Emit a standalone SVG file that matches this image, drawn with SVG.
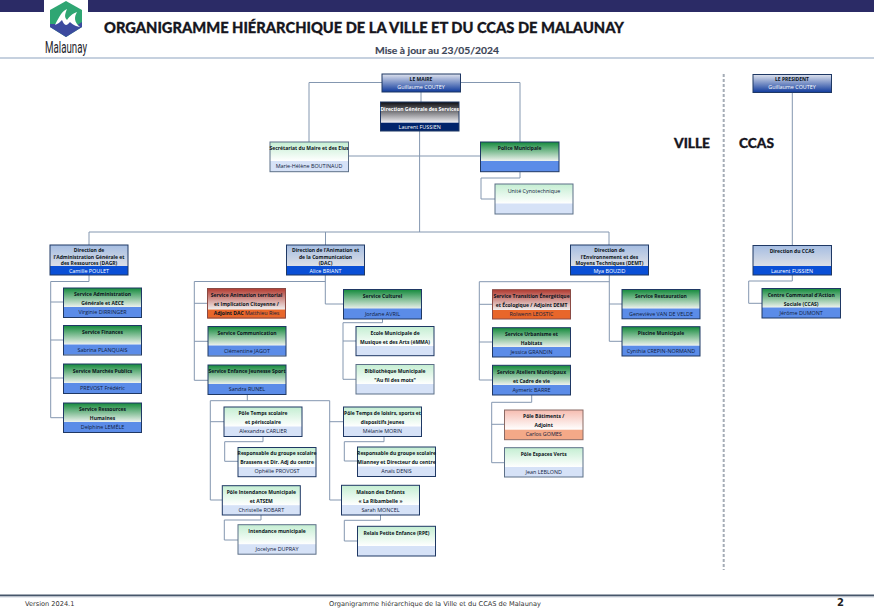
<svg xmlns="http://www.w3.org/2000/svg" width="874" height="616" viewBox="0 0 874 616">
<style>
text{font-family:"Open Sans","Liberation Sans",sans-serif;text-anchor:middle;font-size:5.4px;fill:#10203c}
.b{font-weight:700;fill:#0a1420;font-size:5px}
.w{fill:#fff}
.wb{fill:#fff;font-weight:700;font-size:5px}
.c{fill:none;stroke:#8497b0;stroke-width:1}
.o{fill:none;stroke:#1f3864;stroke-width:1}
.p{fill:none;stroke:#5d7088;stroke-width:1}
.h{font-family:Lato,"Open Sans",sans-serif;font-weight:900;fill:#16161e;text-anchor:start;stroke:#16161e;stroke-width:.3}
.f{font-family:"DejaVu Sans",sans-serif;font-size:6.6px;fill:#333;text-anchor:start}
</style>
<defs>
<linearGradient id="gM" x1="0" y1="0" x2="0" y2="1"><stop offset="0" stop-color="#dfe3ee"/><stop offset="1" stop-color="#0f3a9c"/></linearGradient>
<linearGradient id="gD" x1="0" y1="0" x2="0" y2="1"><stop offset="0" stop-color="#0e0e12"/><stop offset="1" stop-color="#f0f0f4"/></linearGradient>
<linearGradient id="gG" x1="0" y1="0" x2="0" y2="1"><stop offset="0" stop-color="#148a3c"/><stop offset="1" stop-color="#eef2ee"/></linearGradient>
<linearGradient id="gP" x1="0" y1="0" x2="0" y2="1"><stop offset="0" stop-color="#c4eed2"/><stop offset="1" stop-color="#ffffff"/></linearGradient>
<linearGradient id="gB" x1="0" y1="0" x2="0" y2="1"><stop offset="0" stop-color="#a5bde2"/><stop offset="1" stop-color="#dcdfe6"/></linearGradient>
<linearGradient id="gR" x1="0" y1="0" x2="0" y2="1"><stop offset="0" stop-color="#b23a30"/><stop offset="1" stop-color="#f0eeee"/></linearGradient>
<linearGradient id="gL" x1="0" y1="0" x2="0" y2="1"><stop offset="0" stop-color="#f6bcb0"/><stop offset="1" stop-color="#ffffff"/></linearGradient>
</defs>
<rect width="874" height="616" fill="#fff"/>
<g id="header">
<rect x="0" y="0" width="44" height="12" fill="#2b2b66"/>
<rect x="88" y="0" width="786" height="12" fill="#2b2b66"/>
<rect x="0" y="57" width="874" height="2" fill="#c6d1df"/>
<polygon points="66,1 82,10 82,27 66,37 50,27 50,10" fill="#2fa673"/>
<polygon points="50,24 56,24 61,17 66,25 72,19 76,26 82,22 82,27 66,37 50,27" fill="#3c4a9f"/>
<path d="M55,25 C59,17 62,11 67,9 C65,14 64,17 67,20 C70,16 72,14 77,12 C74,17 74,22 80,27 C74,26 71,23 70,22 C66,27 64,25 62,20 C60,22 58,24 55,25Z" fill="#fff"/>
<text x="66" y="53" style="font-family:Roboto,sans-serif;font-size:16px;fill:#26262c" textLength="42" lengthAdjust="spacingAndGlyphs">Malaunay</text>
<text class="h" x="104" y="33" style="font-size:15.4px" textLength="520" lengthAdjust="spacingAndGlyphs">ORGANIGRAMME HIÉRARCHIQUE DE LA VILLE ET DU CCAS DE MALAUNAY</text>
<text class="h" x="375" y="54" style="font-size:9.5px;fill:#3b4456;stroke:#3b4456;stroke-width:.15;font-weight:700" textLength="124" lengthAdjust="spacingAndGlyphs">Mise à jour au 23/05/2024</text>
<text class="h" x="674" y="148" style="font-size:12.5px" textLength="36" lengthAdjust="spacingAndGlyphs">VILLE</text>
<text class="h" x="739" y="148" style="font-size:12.5px" textLength="35" lengthAdjust="spacingAndGlyphs">CCAS</text>
<line x1="723.7" y1="74" x2="723.7" y2="570" stroke="#a4acb6" stroke-width="2" stroke-dasharray="3 2"/>
</g>
<g id="connectors">
<path class="c" d="M382,82.5H309V142M461,82.5H520V142M421,92V102M419.6,131V232M349,156H480M520,172V178H481V199H495"/>
<path class="c" d="M89,245V232H609V245M325.5,232V245"/>
<path class="c" d="M89,275V281.5H50.7V417.7H63M50.7,302H63M50.7,340H63M50.7,378H63"/>
<path class="c" d="M325.3,275V304H343M325.3,281.5H194.3V380.3H208M194.3,303.3H207M194.3,341.3H208"/>
<path class="c" d="M247.3,395V400.7M210.3,500V400.7H329.7V500H341M210.3,421.7H224M210.3,500H222M329.7,421.7H343"/>
<path class="c" d="M263,437V441.7H224.7V461.3H238M261,515V520H224.3V540H238M384,437V441.7H344.3V461H357M380.5,515V520.3H344.3V541H357"/>
<path class="c" d="M382.5,319V322.7H343V379.3H356M343,341H356"/>
<path class="c" d="M609.3,275V341.3H622M609.3,304H622M609.3,281.7H479.3V380H492M479.3,304.3H492M479.3,342H492"/>
<path class="c" d="M531.7,395V402.3H491.7V462.7H504M491.7,424.3H504"/>
<path class="c" d="M792.3,92.7V245.3M792.3,275V281H748.7V303.3H762"/>
</g>

<g id="maire"><rect x="382" y="74" width="78.5" height="18" fill="url(#gM)" stroke="#1f3864"/><text class="b" x="421" y="81">LE MAIRE</text><text class="w" x="421" y="88.5">Guillaume COUTEY</text></g>
<g id="dgs"><rect x="380.5" y="102" width="78.5" height="20.7" fill="url(#gD)"/><rect x="380.5" y="122.7" width="78.5" height="8.3" fill="#00236b"/><rect class="o" x="380.5" y="102" width="78.5" height="29"/><text class="wb" x="419.7" y="110.5">Direction Générale des Services</text><text class="w" x="419.7" y="128.5">Laurent FUSSIEN</text></g>
<g id="secretariat"><rect x="270" y="142" width="78.5" height="19" fill="url(#gP)"/><rect x="270" y="161" width="78.5" height="10.7" fill="#d6e2f7"/><rect class="p" x="270" y="142" width="78.5" height="29.7"/><text class="b" x="309" y="149.7">Secrétariat du Maire et des Elus</text><text x="309" y="167.7">Marie-Hélène BOUTINAUD</text></g>
<g id="police"><rect x="480.5" y="142" width="78.5" height="19" fill="url(#gG)"/><rect x="480.5" y="161" width="78.5" height="10.7" fill="#5b8ce8"/><rect class="o" x="480.5" y="142" width="78.5" height="29.7"/><text class="b" x="519.7" y="150.2">Police Municipale</text></g>
<g id="cyno"><rect x="495" y="184" width="78" height="19.5" fill="url(#gP)"/><rect x="495" y="203.5" width="78" height="10.5" fill="#d6e2f7"/><rect class="p" x="495" y="184" width="78" height="30"/><text x="534" y="193">Unité  Cynotechnique</text></g>

<g id="dagr"><rect x="50" y="245" width="78" height="21" fill="url(#gB)"/><rect x="50" y="266" width="78" height="9" fill="#0a4fd6"/><rect class="o" x="50" y="245" width="78" height="30"/><text class="b" x="89" y="252">Direction de</text><text class="b" x="89" y="258.5">l’Administration Générale et</text><text class="b" x="89" y="265">des Ressources (DAGR)</text><text class="w" x="89" y="272.5">Camille POULET</text></g>
<g id="dac"><rect x="286.5" y="245" width="78" height="21" fill="url(#gB)"/><rect x="286.5" y="266" width="78" height="9" fill="#0a4fd6"/><rect class="o" x="286.5" y="245" width="78" height="30"/><text class="b" x="325.5" y="252">Direction de l’Animation et</text><text class="b" x="325.5" y="258.5">de la Communication</text><text class="b" x="325.5" y="265">(DAC)</text><text class="w" x="325.5" y="272.5">Alice BRIANT</text></g>
<g id="demt"><rect x="570.5" y="245" width="78" height="21" fill="url(#gB)"/><rect x="570.5" y="266" width="78" height="9" fill="#0a4fd6"/><rect class="o" x="570.5" y="245" width="78" height="30"/><text class="b" x="609.5" y="252">Direction de</text><text class="b" x="609.5" y="258.5">l’Environnement et des</text><text class="b" x="609.5" y="265">Moyens Techniques (DEMT)</text><text class="w" x="609.5" y="272.5">Mya BOUZID</text></g>
<g id="ccas"><rect x="753" y="245.5" width="78.5" height="20.5" fill="url(#gB)"/><rect x="753" y="266" width="78.5" height="9" fill="#0a4fd6"/><rect class="o" x="753" y="245.5" width="78.5" height="29.5"/><text class="b" x="792" y="252.5">Direction du CCAS</text><text class="w" x="792" y="272.5">Laurent FUSSIEN</text></g>
<g id="president"><rect x="753" y="74.5" width="78.5" height="18" fill="url(#gM)" stroke="#1f3864"/><text class="b" x="792" y="81">LE PRESIDENT</text><text class="w" x="792" y="88.5">Guillaume COUTEY</text></g>

<g id="s-admin"><rect x="63.5" y="288" width="78" height="19" fill="url(#gG)"/><rect x="63.5" y="307" width="78" height="10" fill="#5b8ce8"/><rect class="o" x="63.5" y="288" width="78" height="29.5"/><text class="b" x="102.5" y="295.7">Service Administration</text><text class="b" x="102.5" y="304.7">Générale et AECE</text><text x="102.5" y="313.7">Virginie DIRRINGER</text></g>
<g id="s-fin"><rect x="63.5" y="325.5" width="78" height="19" fill="url(#gG)"/><rect x="63.5" y="344.5" width="78" height="10" fill="#5b8ce8"/><rect class="o" x="63.5" y="325.5" width="78" height="29.5"/><text class="b" x="102.5" y="333.9">Service Finances</text><text x="102.5" y="351.5">Sabrina PLANQUAIS</text></g>
<g id="s-marches"><rect x="63.5" y="364" width="78" height="19" fill="url(#gG)"/><rect x="63.5" y="383" width="78" height="10.5" fill="#5b8ce8"/><rect class="o" x="63.5" y="364" width="78" height="29.5"/><text class="b" x="102.5" y="372.5">Service Marchés Publics</text><text x="102.5" y="390">PREVOST Frédéric</text></g>
<g id="s-rh"><rect x="63.5" y="403" width="78" height="19" fill="url(#gG)"/><rect x="63.5" y="422" width="78" height="10.5" fill="#5b8ce8"/><rect class="o" x="63.5" y="403" width="78" height="29.5"/><text class="b" x="102.5" y="411">Service Ressources</text><text class="b" x="102.5" y="420">Humaines</text><text x="102.5" y="429">Delphine LEMÊLE</text></g>

<g id="s-anim"><rect x="207.5" y="288.5" width="78" height="21" fill="url(#gR)"/><rect x="207.5" y="309.5" width="78" height="9" fill="#e8662a"/><rect class="o" style="stroke:#8a4a44" x="207.5" y="288.5" width="78" height="29.5"/><text class="b" x="246.5" y="296.5">Service Animation territorial</text><text class="b" x="246.5" y="305.5">et Implication Citoyenne /</text><text x="246.5" y="315"><tspan class="b">Adjoint DAC </tspan>Matthieu Ries</text></g>
<g id="s-com"><rect x="208" y="326.5" width="78" height="19" fill="url(#gG)"/><rect x="208" y="345.5" width="78" height="10" fill="#5b8ce8"/><rect class="o" x="208" y="326.5" width="78" height="29.5"/><text class="b" x="247" y="334.7">Service Communication</text><text x="247" y="352.5">Clémentine JAGOT</text></g>
<g id="s-enf"><rect x="208" y="365" width="78" height="19.5" fill="url(#gG)"/><rect x="208" y="384" width="78" height="10.5" fill="#5b8ce8"/><rect class="o" x="208" y="365" width="78" height="29.5"/><text class="b" x="247" y="373.2">Service Enfance Jeunesse Sport</text><text x="247" y="391.2">Sandra RUNEL</text></g>

<g id="p-temps"><rect x="224" y="407" width="78" height="19.5" fill="url(#gP)"/><rect x="224" y="426.5" width="78" height="10" fill="#d6e2f7"/><rect class="o" x="224" y="407" width="78" height="29.5"/><text class="b" x="263" y="415">Pôle Temps scolaire</text><text class="b" x="263" y="424">et périscolaire</text><text x="263" y="433">Alexandra CARLIER</text></g>
<g id="r-brassens"><rect x="238" y="447.5" width="78" height="19.5" fill="url(#gP)"/><rect x="238" y="467" width="78" height="9.7" fill="#d6e2f7"/><rect class="o" x="238" y="447.5" width="78" height="29.2"/><text class="b" x="277" y="455">Responsable du groupe scolaire</text><text class="b" x="277" y="464">Brassens et Dir. Adj du centre</text><text x="277" y="473">Ophélie PROVOST</text></g>
<g id="p-int"><rect x="222.3" y="485.7" width="78" height="19.5" fill="url(#gP)"/><rect x="222.3" y="505.2" width="78" height="9.8" fill="#d6e2f7"/><rect class="o" x="222.3" y="485.7" width="78" height="29.3"/><text class="b" x="261.3" y="494">Pôle Intendance Municipale</text><text class="b" x="261.3" y="503">et ATSEM</text><text x="261.3" y="511.5">Christelle ROBART</text></g>
<g id="i-mun"><rect x="238" y="524.7" width="78" height="19.5" fill="url(#gP)"/><rect x="238" y="544.2" width="78" height="10" fill="#d6e2f7"/><rect class="p" x="238" y="524.7" width="78" height="29.5"/><text class="b" x="277" y="533">Intendance municipale</text><text x="277" y="550.7">Jocelyne DUPRAY</text></g>
<g id="p-loisirs"><rect x="343.5" y="407" width="78" height="19.5" fill="url(#gP)"/><rect x="343.5" y="426.5" width="78" height="10" fill="#d6e2f7"/><rect class="o" x="343.5" y="407" width="78" height="29.5"/><text class="b" x="382.5" y="415">Pôle Temps de loisirs, sports et</text><text class="b" x="382.5" y="424">dispositifs jeunes</text><text x="382.5" y="433">Mélanie MORIN</text></g>
<g id="r-mianay"><rect x="357.5" y="447" width="78" height="19.5" fill="url(#gP)"/><rect x="357.5" y="466.5" width="78" height="10" fill="#d6e2f7"/><rect class="o" x="357.5" y="447" width="78" height="29.5"/><text class="b" x="396.5" y="455">Responsable du groupe scolaire</text><text class="b" x="396.5" y="464">Mianney et Directeur du centre</text><text x="396.5" y="473">Anaïs DENIS</text></g>
<g id="maison"><rect x="341.5" y="485.3" width="78" height="19.7" fill="url(#gP)"/><rect x="341.5" y="505" width="78" height="10" fill="#d6e2f7"/><rect class="o" x="341.5" y="485.3" width="78" height="29.7"/><text class="b" x="380.5" y="493.5">Maison des Enfants</text><text class="b" x="380.5" y="502.7">« La Ribambelle »</text><text x="380.5" y="511.5">Sarah MONCEL</text></g>
<g id="relais"><rect x="357.5" y="526.3" width="78" height="19.7" fill="url(#gP)"/><rect x="357.5" y="546" width="78" height="10" fill="#d6e2f7"/><rect class="o" x="357.5" y="526.3" width="78" height="29.7"/><text class="b" x="396.5" y="534.5">Relais Petite Enfance (RPE)</text></g>

<g id="s-cult"><rect x="343.5" y="289.5" width="78" height="19.5" fill="url(#gG)"/><rect x="343.5" y="308.5" width="78" height="10.5" fill="#5b8ce8"/><rect class="o" x="343.5" y="289.5" width="78" height="29.5"/><text class="b" x="382.5" y="297.7">Service Culturel</text><text x="382.5" y="315.5">Jordane AVRIL</text></g>
<g id="emma"><rect x="356" y="326.5" width="78" height="19.5" fill="url(#gP)"/><rect x="356" y="346" width="78" height="9.7" fill="#d6e2f7"/><rect class="o" x="356" y="326.5" width="78" height="29.2"/><text class="b" x="395" y="334.5">Ecole Municipale de</text><text class="b" x="395" y="343.5">Musique et des Arts (éMMA)</text></g>
<g id="biblio"><rect x="356" y="364.5" width="78" height="19.7" fill="url(#gP)"/><rect x="356" y="384" width="78" height="10" fill="#d6e2f7"/><rect class="p" x="356" y="364.5" width="78" height="29.5"/><text class="b" x="395" y="373">Bibliothèque Municipale</text><text class="b" x="395" y="382">"Au fil des mots"</text></g>

<g id="s-trans"><rect x="492.5" y="289.7" width="78" height="20.3" fill="url(#gR)"/><rect x="492.5" y="310" width="78" height="9" fill="#e8662a"/><rect class="o" style="stroke:#8a4a44" x="492.5" y="289.7" width="78" height="29.3"/><text class="b" x="531.5" y="297.7">Service Transition Énergétique</text><text class="b" x="531.5" y="306.7">et Écologique / Adjoint DEMT</text><text x="531.5" y="315.7">Rolwenn LEOSTIC</text></g>
<g id="s-urb"><rect x="492.5" y="327.7" width="78" height="19.3" fill="url(#gG)"/><rect x="492.5" y="347" width="78" height="10" fill="#5b8ce8"/><rect class="o" x="492.5" y="327.7" width="78" height="29.3"/><text class="b" x="531.5" y="335.7">Service Urbanisme et</text><text class="b" x="531.5" y="344.7">Habitats</text><text x="531.5" y="353.7">Jessica GRANDIN</text></g>
<g id="s-ate"><rect x="492.5" y="365.3" width="78" height="19.7" fill="url(#gG)"/><rect x="492.5" y="385" width="78" height="10" fill="#5b8ce8"/><rect class="o" x="492.5" y="365.3" width="78" height="29.7"/><text class="b" x="531.5" y="373.7">Service Ateliers Municipaux</text><text class="b" x="531.5" y="382.7">et Cadre de vie</text><text x="531.5" y="391.7">Aymeric BARRE</text></g>
<g id="p-bat"><rect x="504.5" y="410" width="78.5" height="19.7" fill="url(#gL)"/><rect x="504.5" y="429.7" width="78.5" height="10" fill="#f4a988"/><rect class="p" style="stroke:#8a6a64" x="504.5" y="410" width="78.5" height="29.7"/><text class="b" x="543.7" y="418">Pôle Bâtiments /</text><text class="b" x="543.7" y="427">Adjoint</text><text x="543.7" y="436">Carlos GOMES</text></g>
<g id="p-ev"><rect x="504.5" y="447.7" width="78.5" height="19.3" fill="url(#gP)"/><rect x="504.5" y="467" width="78.5" height="10" fill="#d6e2f7"/><rect class="p" x="504.5" y="447.7" width="78.5" height="29.3"/><text class="b" x="543.7" y="456">Pôle Espaces Verts</text><text x="543.7" y="473.7">Jean LEBLOND</text></g>
<g id="s-rest"><rect x="622" y="289.5" width="78" height="19" fill="url(#gG)"/><rect x="622" y="308.5" width="78" height="10.3" fill="#5b8ce8"/><rect class="o" x="622" y="289.5" width="78" height="29.3"/><text class="b" x="661" y="297.7">Service Restauration</text><text x="661" y="315.5">Geneviève VAN DE VELDE</text></g>
<g id="s-pisc"><rect x="622" y="326.7" width="78" height="19" fill="url(#gG)"/><rect x="622" y="345.7" width="78" height="10.3" fill="#5b8ce8"/><rect class="o" x="622" y="326.7" width="78" height="29.3"/><text class="b" x="661" y="335">Piscine Municipale</text><text x="661" y="352.7">Cynthia CREPIN-NORMAND</text></g>
<g id="centre"><rect x="762" y="288.5" width="78.5" height="19" fill="url(#gG)"/><rect x="762" y="307.5" width="78.5" height="10.5" fill="#5b8ce8"/><rect class="o" x="762" y="288.5" width="78.5" height="29.5"/><text class="b" x="801.2" y="296.5">Centre Communal d’Action</text><text class="b" x="801.2" y="305.5">Sociale (CCAS)</text><text x="801.2" y="314.5">Jérôme DUMONT</text></g>

<g id="footer">
<rect x="0" y="594.5" width="874" height="2" fill="#46566a"/>
<rect x="0" y="596.5" width="874" height="1" fill="#cfd6df"/>
<text class="f" x="25" y="606">Version 2024.1</text>
<text class="f" x="329" y="606" textLength="212" lengthAdjust="spacingAndGlyphs">Organigramme hiérarchique de la Ville et du CCAS de Malaunay</text>
<text x="840.5" y="606" style="font-family:'DejaVu Sans',sans-serif;font-size:10px;font-weight:700;fill:#222">2</text>
</g>
</svg>
